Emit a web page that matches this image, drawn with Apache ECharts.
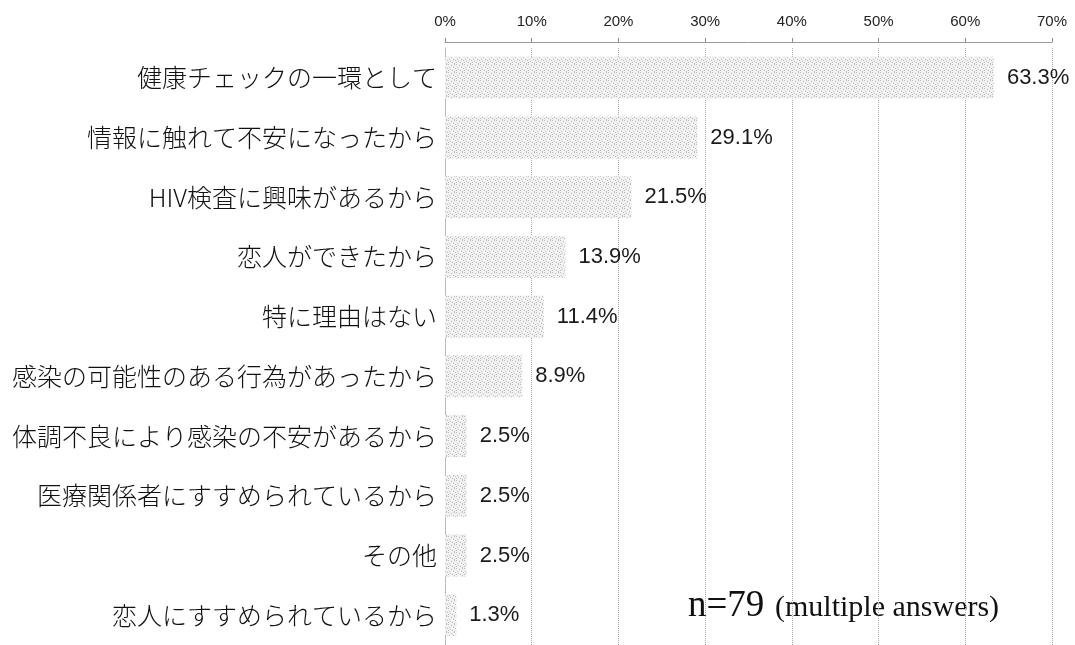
<!DOCTYPE html>
<html>
<head>
<meta charset="utf-8">
<script src="https://cdn.jsdelivr.net/npm/echarts@6/dist/echarts.min.js"></script>
<style>
  html, body { margin: 0; padding: 0; background: #fff; }
  #chart { width: 1075px; height: 645px; }
</style>
</head>
<body>
<div id="chart"></div>
<script>
// Reasons for taking the test (multiple answers, n=79)
const reasons = [
  '健康チェックの一環として',
  '情報に触れて不安になったから',
  'HIV検査に興味があるから',
  '恋人ができたから',
  '特に理由はない',
  '感染の可能性のある行為があったから',
  '体調不良により感染の不安があるから',
  '医療関係者にすすめられているから',
  'その他',
  '恋人にすすめられているから'
];
const shares = [63.3, 29.1, 21.5, 13.9, 11.4, 8.9, 2.5, 2.5, 2.5, 1.3];
const axisTicks = [0, 10, 20, 30, 40, 50, 60, 70];
const sampleNote = 'n=79';
const sampleNoteSuffix = '(multiple answers)';

// Stippled grey fill for the bars
function stipple() {
  const c = document.createElement('canvas');
  c.width = 8; c.height = 8;
  const g = c.getContext('2d');
  g.fillStyle = '#f1f1f1';
  g.fillRect(0, 0, 8, 8);
  g.fillStyle = '#bcbcbc';
  const dots = [[0,0],[3,1],[6,0],[1,3],[5,3],[2,5],[7,4],[4,6],[0,6],[6,7]];
  dots.forEach(([x, y]) => g.fillRect(x, y, 1, 1));
  return c;
}

const chart = echarts.init(document.getElementById('chart'), null, { renderer: 'canvas' });
const labelFont = '"Noto Sans CJK JP", sans-serif';
const numFont = '"Liberation Sans", sans-serif';
const serifFont = '"Liberation Serif", serif';

chart.setOption({
  backgroundColor: '#ffffff',
  animation: false,
  grid: { left: 445, right: 23, top: 48, bottom: 0, containLabel: false },
  xAxis: {
    type: 'value',
    position: 'top',
    offset: 6,
    min: axisTicks[0],
    max: axisTicks[axisTicks.length - 1],
    interval: 10,
    axisLine: { show: true, lineStyle: { color: '#999', width: 1 } },
    axisTick: { show: true, length: 4, lineStyle: { color: '#888' } },
    axisLabel: {
      margin: 13,
      formatter: v => v + '%',
      color: '#222',
      fontFamily: numFont,
      fontSize: 15
    },
    splitLine: { show: true, lineStyle: { color: '#aaa', type: 'dotted', width: 1 } }
  },
  yAxis: {
    type: 'category',
    inverse: true,
    data: reasons,
    axisLine: { show: true, lineStyle: { color: '#aaa', type: 'dotted' } },
    axisTick: { show: false },
    axisLabel: {
      margin: 8,
      color: '#111',
      fontFamily: labelFont,
      fontSize: 25,
      fontWeight: 300
    }
  },
  series: [{
    type: 'bar',
    data: shares,
    barWidth: 42,
    itemStyle: { color: { image: stipple(), repeat: 'repeat' } },
    label: {
      show: true,
      position: 'right',
      distance: 13,
      formatter: p => p.value.toFixed(1) + '%',
      color: '#1a1a1a',
      fontFamily: numFont,
      fontSize: 22
    }
  }],
  graphic: [{
    type: 'text',
    x: 688,
    y: 606,
    style: {
      text: sampleNote,
      font: '37px ' + serifFont,
      fill: '#111',
      verticalAlign: 'middle'
    }
  }, {
    type: 'text',
    x: 775,
    y: 608,
    style: {
      text: sampleNoteSuffix,
      font: '30px ' + serifFont,
      fill: '#111',
      verticalAlign: 'middle'
    }
  }]
});
</script>
</body>
</html>
